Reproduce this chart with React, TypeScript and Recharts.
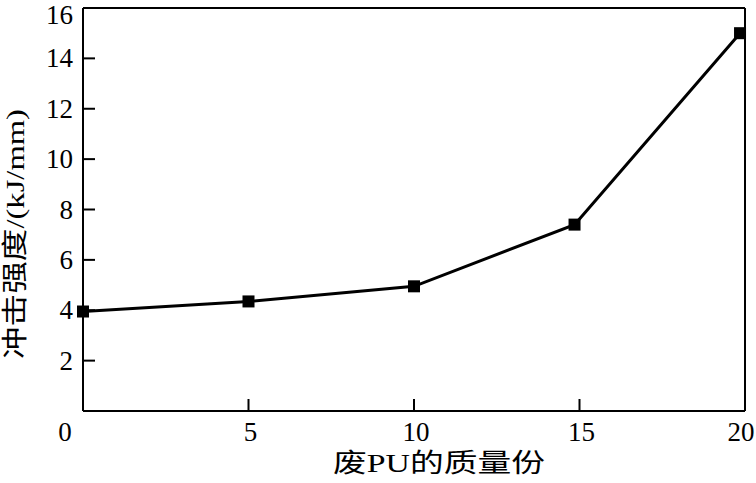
import { LineChart, Line, XAxis, YAxis, ReferenceLine } from 'recharts';

// 废PU质量份 vs 冲击强度
const puParts = [0, 5, 10, 14.85, 19.85];
const impactStrength = [3.95, 4.35, 4.95, 7.4, 15];
const xTicks = [0, 5, 10, 15, 20];
const yTicks = [2, 4, 6, 8, 10, 12, 14, 16];

const xTitle = '废PU的质量份';
const yTitle = '冲击强度/(kJ/mm)';

const data = puParts.map((x, i) => ({ x, y: impactStrength[i] }));

const FONT = "'Liberation Serif', 'DejaVu Serif', 'Noto Sans CJK SC', serif";

const SquareDot = (props: any) => {
  const { cx, cy } = props;
  if (cx == null || cy == null) return null;
  return <rect x={cx - 6} y={cy - 6} width={12} height={12} fill="#000" />;
};

const XTick = (props: any) => {
  const { x, y, payload } = props;
  // the outer labels sit a bit left of their ticks in the original
  const shift = payload.value === 0 ? -18 : payload.value === 20 ? -4 : 2;
  return (
    <text x={x + shift} y={y} dy={18} textAnchor="middle" style={{ fontFamily: FONT, fontSize: 27 }} fill="#000">
      {payload.value}
    </text>
  );
};

const YTick = (props: any) => {
  const { x, y, payload } = props;
  // top label nudged down so it stays inside the page
  return (
    <text x={x} y={y} dy={payload.value === 16 ? 16 : 9} textAnchor="end" style={{ fontFamily: FONT, fontSize: 27 }} fill="#000">
      {payload.value}
    </text>
  );
};

export default function App() {
  return (
    <div style={{ position: 'absolute', left: 0, top: 0, background: '#fff' }}>
      <LineChart width={756} height={483} data={data} margin={{ top: 8, right: 11, left: 0, bottom: 0 }}>
        <XAxis
          type="number"
          dataKey="x"
          domain={[0, 20]}
          ticks={xTicks}
          interval={0}
          height={72}
          tickSize={-12}
          tickMargin={24}
          axisLine={{ stroke: '#000', strokeWidth: 2 }}
          tickLine={{ stroke: '#000', strokeWidth: 2 }}
          tick={<XTick />}
          label={{
            content: () => (
              <text
                x={439}
                y={472}
                textAnchor="middle"
                style={{ fontFamily: FONT, fontSize: 26 }}
                fill="#000"
                textLength={212}
                lengthAdjust="spacingAndGlyphs"
              >
                {xTitle}
              </text>
            ),
          }}
        />
        <YAxis
          type="number"
          domain={[0, 16]}
          ticks={yTicks}
          interval={0}
          width={83}
          tickSize={-12}
          tickMargin={22}
          axisLine={{ stroke: '#000', strokeWidth: 2 }}
          tickLine={{ stroke: '#000', strokeWidth: 2 }}
          tick={<YTick />}
          label={{
            content: () => (
              <text
                x={15}
                y={234}
                transform="rotate(-90 15 234)"
                textAnchor="middle"
                dominantBaseline="central"
                style={{ fontFamily: FONT, fontSize: 26 }}
                fill="#000"
                textLength={250}
                lengthAdjust="spacingAndGlyphs"
              >
                {yTitle}
              </text>
            ),
          }}
        />
        <ReferenceLine y={16} stroke="#000" strokeWidth={2} />
        <ReferenceLine x={20} stroke="#000" strokeWidth={2} />
        <Line
          type="linear"
          dataKey="y"
          stroke="#000"
          strokeWidth={3}
          dot={<SquareDot />}
          activeDot={false}
          isAnimationActive={false}
        />
      </LineChart>
    </div>
  );
}
